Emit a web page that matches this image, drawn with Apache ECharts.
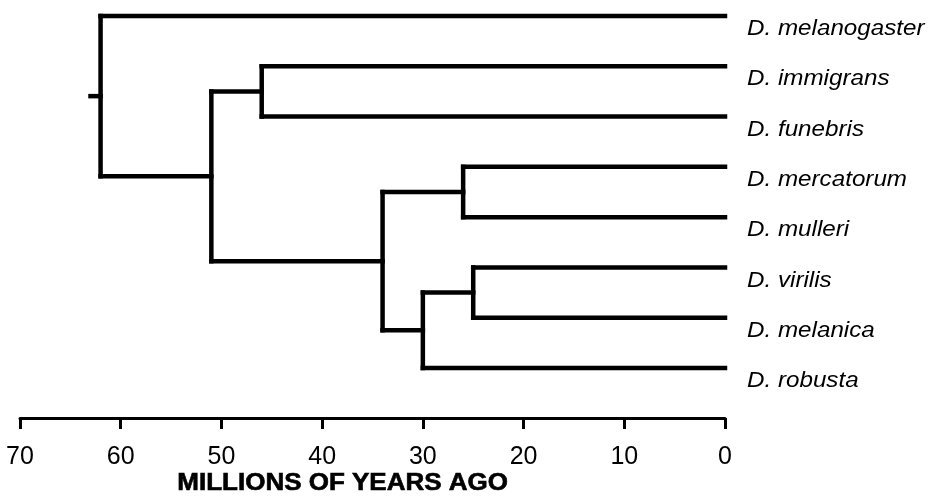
<!DOCTYPE html>
<html>
<head>
<meta charset="utf-8">
<script src="https://cdn.jsdelivr.net/npm/echarts@6/dist/echarts.min.js"></script>
<style>html,body{margin:0;padding:0;background:#fff}#c{width:928px;height:496px}</style>
</head>
<body>
<div id="c"></div>
<script>
// Leaves (top to bottom), all at 0 million years ago
const leafNames = ['D. melanogaster','D. immigrans','D. funebris','D. mercatorum','D. mulleri','D. virilis','D. melanica','D. robusta'];
// Internal nodes: divergence times (millions of years ago) and their two children
const nodeNames = ['n25','n26','n30','n34','n46','n51','root'];
const nodeAges  = [25, 26, 30, 34, 46, 51, 62];
const nodeChildA = ['D. virilis','D. mercatorum','n25','n26','D. immigrans','n46','D. melanogaster'];
const nodeChildB = ['D. melanica','D. mulleri','D. robusta','n30','D. funebris','n34','n51'];
const rootStubAge = 63;
const tickLabels = [70, 60, 50, 40, 30, 20, 10, 0];
const axisTitle = 'MILLIONS OF YEARS AGO';

// Build tree positions
const age = {}, pos = {};
leafNames.forEach((n, i) => { age[n] = 0; pos[n] = i; });
nodeNames.forEach((n, i) => {
  age[n] = nodeAges[i];
  pos[n] = (pos[nodeChildA[i]] + pos[nodeChildB[i]]) / 2;
});
const segments = [];
nodeNames.forEach((n, i) => {
  const a = nodeChildA[i], b = nodeChildB[i];
  segments.push([age[n], pos[a], age[n], pos[b]]);
  segments.push([age[n], pos[a], age[a], pos[a]]);
  segments.push([age[n], pos[b], age[b], pos[b]]);
});
segments.push([age.root, pos.root, rootStubAge, pos.root]);
const labelData = leafNames.map((n, i) => [0, i, n]);

const chart = echarts.init(document.getElementById('c'));
chart.setOption({
  backgroundColor: '#fff',
  animation: false,
  grid: { left: 20, top: 16, width: 705, height: 352 },
  xAxis: {
    type: 'value', min: 0, max: 70, interval: 10, inverse: true,
    position: 'bottom', offset: 50,
    axisLine: { show: true, onZero: false, lineStyle: { color: '#000', width: 3 } },
    axisTick: { show: true, length: 11, lineStyle: { color: '#000', width: 3 } },
    axisLabel: { color: '#000', fontSize: 25, fontFamily: 'Liberation Sans, Arial, sans-serif', margin: 27,
      formatter: v => tickLabels.indexOf(v) >= 0 ? String(v) : '' },
    splitLine: { show: false }
  },
  yAxis: { type: 'value', min: 0, max: 7, inverse: true, show: false },
  series: [
    {
      type: 'custom',
      data: segments,
      encode: { x: [0, 2], y: [1, 3] },
      renderItem: (params, api) => {
        const p1 = api.coord([api.value(0), api.value(1)]);
        const p2 = api.coord([api.value(2), api.value(3)]);
        return { type: 'line', shape: { x1: p1[0], y1: p1[1], x2: p2[0], y2: p2[1] },
          style: { stroke: '#000', lineWidth: 4.5, lineCap: 'square' } };
      },
      clip: false
    },
    {
      type: 'custom',
      data: labelData,
      encode: { x: 0, y: 1 },
      renderItem: (params, api) => {
        const p = api.coord([api.value(0), api.value(1)]);
        return { type: 'text', x: p[0] + 22, y: p[1] + 13, scaleX: 1.1,
          style: { text: leafNames[params.dataIndex], x: 0, y: 0, fill: '#000',
            font: 'italic 22px "Liberation Sans", Arial, sans-serif', verticalAlign: 'middle', align: 'left' } };
      },
      clip: false
    }
  ],
  graphic: [
    { type: 'text', left: 177, top: 472, scaleX: 1.13,
      style: { text: axisTitle, fill: '#000', font: 'bold 23px "Liberation Sans", Arial, sans-serif',
        stroke: '#000', lineWidth: 0.6 } }
  ]
});
</script>
</body>
</html>
